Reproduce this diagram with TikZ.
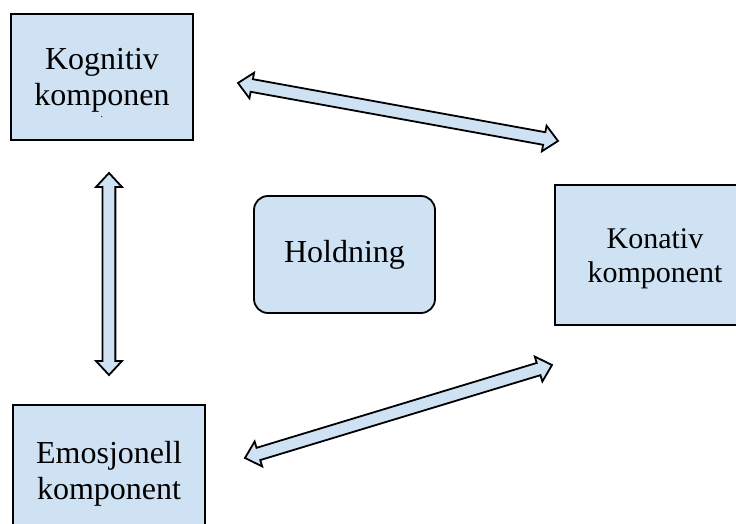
\documentclass[tikz,border=0pt]{standalone}
\usepackage{fontspec}
\setmainfont{Liberation Serif}
\usetikzlibrary{calc}

\definecolor{komblue}{RGB}{207,226,243}

\tikzset{
    komp/.style={rectangle,draw,fill=komblue,line width=0.9pt,align=center,
        font=\fontsize{16}{18}\selectfont},
    pil/.style={draw,fill=komblue,line width=0.9pt,line join=miter}
}

% double headed block arrow between two named tips
\newcommand{\tovei}[2]{%
    \coordinate (ha) at ($(#1)!7pt!(#2)$);
    \coordinate (hb) at ($(#2)!7pt!(#1)$);
    \path[pil] (#1) -- ($(ha)!6.5pt!90:(#2)$) -- ($(ha)!3.2pt!90:(#2)$)
        -- ($(hb)!3.2pt!-90:(#1)$) -- ($(hb)!6.5pt!-90:(#1)$) -- (#2)
        -- ($(hb)!6.5pt!90:(#1)$) -- ($(hb)!3.2pt!90:(#1)$)
        -- ($(ha)!3.2pt!-90:(#2)$) -- ($(ha)!6.5pt!-90:(#2)$) -- cycle;
}

\begin{document}
\begin{tikzpicture}[x=0.5pt,y=-0.5pt]
    \useasboundingbox (0,0) rectangle (736,524);

    \node[komp,minimum width=91pt,minimum height=63pt] (kog) at (102,77)
        {\rule{0pt}{17pt}Kognitiv\\komponen\\[-12pt]{\fontsize{5}{6}\selectfont .}};

    \node[komp,rounded corners=7pt,minimum width=90.5pt,minimum height=58.5pt] (hold) at (344.5,254.5) {Holdning};

    \node[komp,font=\fontsize{15}{17}\selectfont,minimum width=100pt,minimum height=70pt] (kon) at (655,255)
        {\rule{0pt}{14pt}Konativ\\komponent};

    \node[komp,minimum width=96pt,minimum height=65pt] (emo) at (109,470)
        {\rule{0pt}{15pt}Emosjonell\\komponent};

    % arrows
    \coordinate (kogO) at (238,83);
    \coordinate (konV) at (558,141);
    \tovei{kogO}{konV}

    \coordinate (kogN) at (109,173);
    \coordinate (emoO) at (109,375);
    \tovei{kogN}{emoO}

    \coordinate (emoH) at (245,458);
    \coordinate (konN) at (552,365);
    \tovei{emoH}{konN}
\end{tikzpicture}
\end{document}
